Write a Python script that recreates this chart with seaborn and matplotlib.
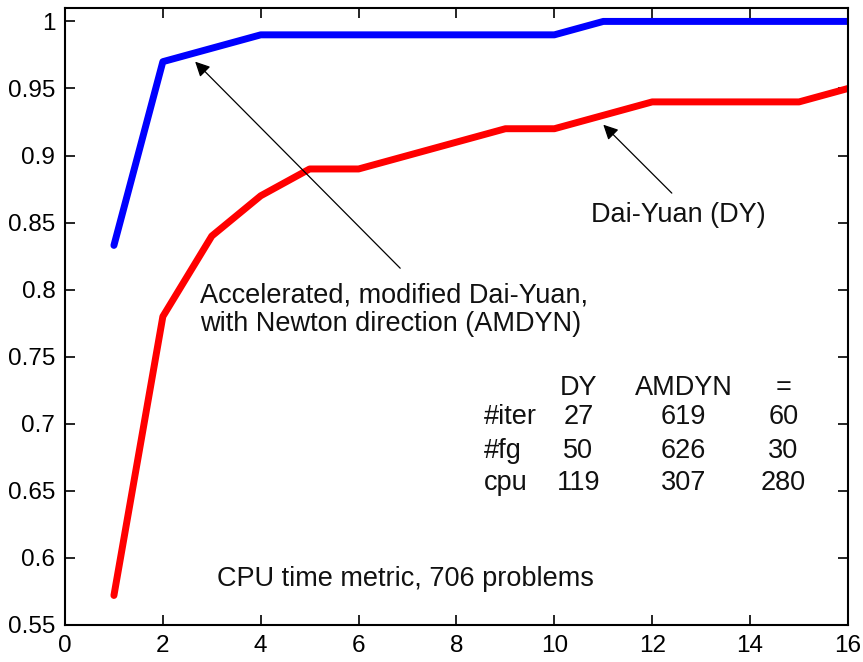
import matplotlib
matplotlib.use("Agg")
import matplotlib.pyplot as plt
import seaborn as sns
import pandas as pd
from matplotlib.ticker import FuncFormatter, MultipleLocator

x_vals = [1, 2, 3, 4, 5, 6, 7, 8, 9, 10, 11, 12, 13, 14, 15, 16]
amdyn = [0.833, 0.97, 0.98, 0.99, 0.99, 0.99, 0.99, 0.99, 0.99, 0.99, 1.0, 1.0, 1.0, 1.0, 1.0, 1.0]
dy = [0.572, 0.78, 0.84, 0.87, 0.89, 0.89, 0.90, 0.91, 0.92, 0.92, 0.93, 0.94, 0.94, 0.94, 0.94, 0.95]

table_cols = ["DY", "AMDYN", "="]
table_rows = ["#iter", "#fg", "cpu"]
table_vals = [[27, 619, 60], [50, 626, 30], [119, 307, 280]]

sns.set_style("white")
plt.rcParams["font.family"] = ["Liberation Sans", "DejaVu Sans"]

df = pd.DataFrame({
    "x": x_vals * 2,
    "y": amdyn + dy,
    "method": ["AMDYN"] * len(x_vals) + ["DY"] * len(x_vals),
})

fig = plt.figure(figsize=(8.63, 6.62), dpi=100)
ax = fig.add_axes([0.0753, 0.0559, 0.9073, 0.932])
sns.lineplot(data=df, x="x", y="y", hue="method",
             palette={"AMDYN": "#0000ff", "DY": "#ff0000"},
             linewidth=5, legend=False, ax=ax)

ax.set_xlim(0, 16)
ax.set_ylim(0.55, 1.01)
ax.xaxis.set_major_locator(MultipleLocator(2))
ax.yaxis.set_major_locator(MultipleLocator(0.05))
ax.yaxis.set_major_formatter(FuncFormatter(lambda v, p: f"{v:g}"))
ax.set_xlabel("")
ax.set_ylabel("")
ax.tick_params(direction="in", length=7, width=1.2, labelsize=17.5,
               top=True, right=True, bottom=True, left=True,
               colors="black", pad=7)
for s in ax.spines.values():
    s.set_linewidth(1.5)
    s.set_color("black")

fs = 19.5
tc = "#111111"
ax.text(2.76, 0.785, "Accelerated, modified Dai-Yuan,\nwith Newton direction (AMDYN)",
        ha="left", va="center", fontsize=fs, color=tc, linespacing=1.15)
ax.annotate("", xy=(2.66, 0.970), xytext=(6.85, 0.816),
            arrowprops=dict(arrowstyle="-|>", color="black", lw=0.9,
                            mutation_scale=22, shrinkA=0, shrinkB=0))
ax.annotate("", xy=(11.0, 0.923), xytext=(12.4, 0.872),
            arrowprops=dict(arrowstyle="-|>", color="black", lw=0.9,
                            mutation_scale=22, shrinkA=0, shrinkB=0))
ax.text(10.74, 0.856, "Dai-Yuan (DY)", ha="left", va="center",
        fontsize=fs, color=tc)

col_x = [10.49, 12.64, 14.68]
for c in range(3):
    ax.text(col_x[c], 0.727, table_cols[c], ha="center", va="center",
            fontsize=fs, color=tc)
row_y = [0.705, 0.680, 0.656]
for r, lbl in enumerate(table_rows):
    ax.text(8.55, row_y[r], lbl, ha="left", va="center", fontsize=fs, color=tc)
    for c in range(3):
        ax.text(col_x[c], row_y[r], str(table_vals[r][c]), ha="center",
                va="center", fontsize=fs, color=tc)

ax.text(6.95, 0.584, "CPU time metric, 706 problems", ha="center",
        va="center", fontsize=fs, color=tc)

fig.savefig("out.png", dpi=100)
